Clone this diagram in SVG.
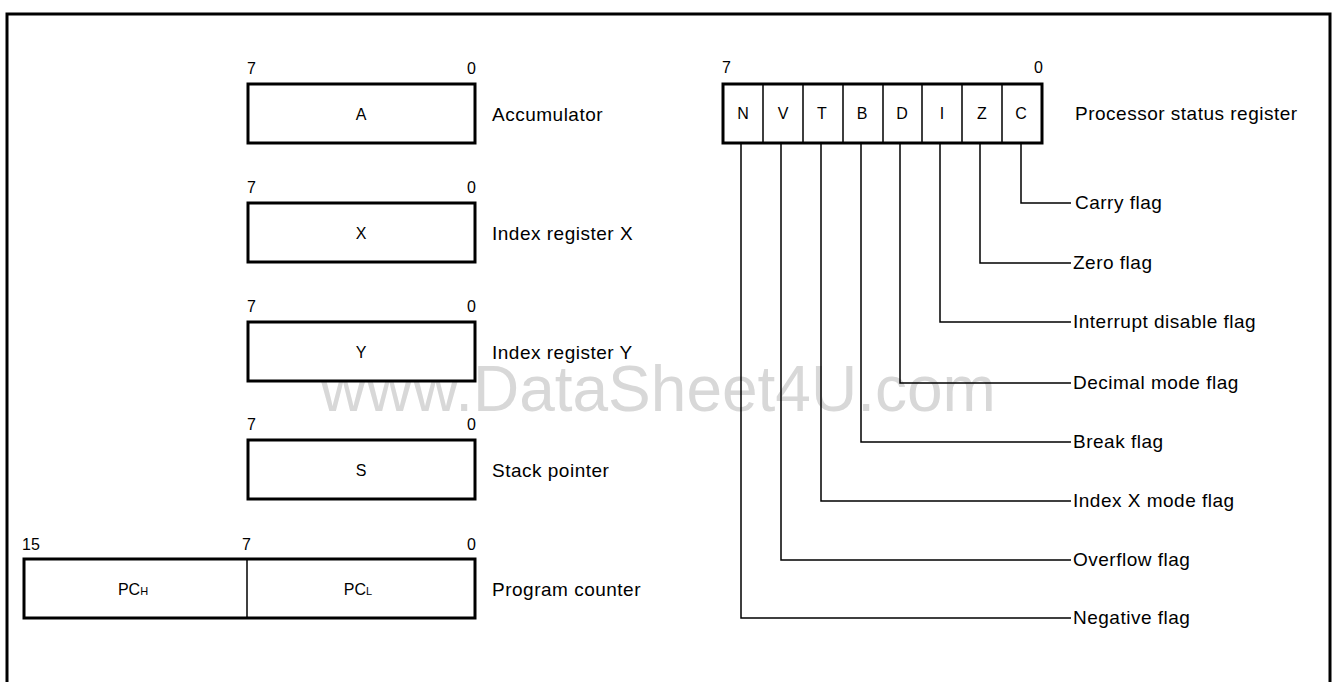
<svg xmlns="http://www.w3.org/2000/svg" width="1334" height="682" viewBox="0 0 1334 682">
<style>
.bg{fill:#fff}
.frame{fill:none;stroke:#000;stroke-width:3}
.reg{fill:#fff;stroke:#000;stroke-width:3}
.div{stroke:#000;stroke-width:1.5;fill:none}
.conn{stroke:#000;stroke-width:1.5;fill:none}
.t{font-family:"Liberation Sans",Arial,sans-serif;fill:#000}
.lbl{font-size:19px;letter-spacing:0.5px}
.bit{font-size:16px}
.name{font-size:16px;text-anchor:middle}
.end{text-anchor:end}
.wm{font-family:"Liberation Sans",Arial,sans-serif;font-size:64px;fill:#d8d8d8}
</style>
<rect class="bg" x="0" y="0" width="1334" height="682"/>
<text class="wm" x="320" y="411">www.DataSheet4U.com</text>
<path class="frame" d="M7,700 V14 H1330 V700"/>

<g id="accumulator">
<text class="t bit" x="247" y="74">7</text>
<text class="t bit end" x="476" y="74">0</text>
<rect class="reg" x="248" y="84" width="227" height="59"/>
<text class="t name" x="361" y="120">A</text>
<text class="t lbl" x="492" y="121">Accumulator</text>
</g>

<g id="index-x">
<text class="t bit" x="247" y="193">7</text>
<text class="t bit end" x="476" y="193">0</text>
<rect class="reg" x="248" y="203" width="227" height="59"/>
<text class="t name" x="361" y="239">X</text>
<text class="t lbl" x="492" y="240">Index register X</text>
</g>

<g id="index-y">
<text class="t bit" x="247" y="312">7</text>
<text class="t bit end" x="476" y="312">0</text>
<rect class="reg" x="248" y="322" width="227" height="59"/>
<text class="t name" x="361" y="358">Y</text>
<text class="t lbl" x="492" y="359">Index register Y</text>
</g>

<g id="stack-pointer">
<text class="t bit" x="247" y="430">7</text>
<text class="t bit end" x="476" y="430">0</text>
<rect class="reg" x="248" y="440" width="227" height="59"/>
<text class="t name" x="361" y="476">S</text>
<text class="t lbl" x="492" y="477">Stack pointer</text>
</g>

<g id="program-counter">
<text class="t bit" x="22" y="550">15</text>
<text class="t bit" x="242" y="550">7</text>
<text class="t bit end" x="476" y="550">0</text>
<rect class="reg" x="24" y="559" width="451" height="59"/>
<line class="div" x1="247" y1="559" x2="247" y2="618"/>
<text class="t name" x="133" y="595">PC<tspan font-size="11px">H</tspan></text>
<text class="t name" x="358" y="595">PC<tspan font-size="11px">L</tspan></text>
<text class="t lbl" x="492" y="596">Program counter</text>
</g>

<g id="status-register">
<text class="t bit" x="722" y="73">7</text>
<text class="t bit end" x="1043" y="73">0</text>
<rect class="reg" x="723" y="84" width="319" height="59"/>
<path class="div" d="M763,84V143M803,84V143M843,84V143M883,84V143M922,84V143M962,84V143M1002,84V143"/>
<text class="t name" x="743" y="119">N</text>
<text class="t name" x="783" y="119">V</text>
<text class="t name" x="822" y="119">T</text>
<text class="t name" x="862" y="119">B</text>
<text class="t name" x="902" y="119">D</text>
<text class="t name" x="942" y="119">I</text>
<text class="t name" x="982" y="119">Z</text>
<text class="t name" x="1021" y="119">C</text>
<text class="t lbl" x="1075" y="120">Processor status register</text>
</g>

<g id="connectors">
<path class="conn" d="M1021,143V203H1071"/>
<path class="conn" d="M980,143V263H1071"/>
<path class="conn" d="M940,143V322H1071"/>
<path class="conn" d="M900,143V383H1071"/>
<path class="conn" d="M861,143V442H1071"/>
<path class="conn" d="M821,143V501H1071"/>
<path class="conn" d="M781,143V560H1071"/>
<path class="conn" d="M741,143V618H1071"/>
</g>

<g id="flag-labels">
<text class="t lbl" x="1075" y="209">Carry flag</text>
<text class="t lbl" x="1073" y="269">Zero flag</text>
<text class="t lbl" x="1073" y="328">Interrupt disable flag</text>
<text class="t lbl" x="1073" y="389">Decimal mode flag</text>
<text class="t lbl" x="1073" y="448">Break flag</text>
<text class="t lbl" x="1073" y="507">Index X mode flag</text>
<text class="t lbl" x="1073" y="566">Overflow flag</text>
<text class="t lbl" x="1073" y="624">Negative flag</text>
</g>
</svg>
